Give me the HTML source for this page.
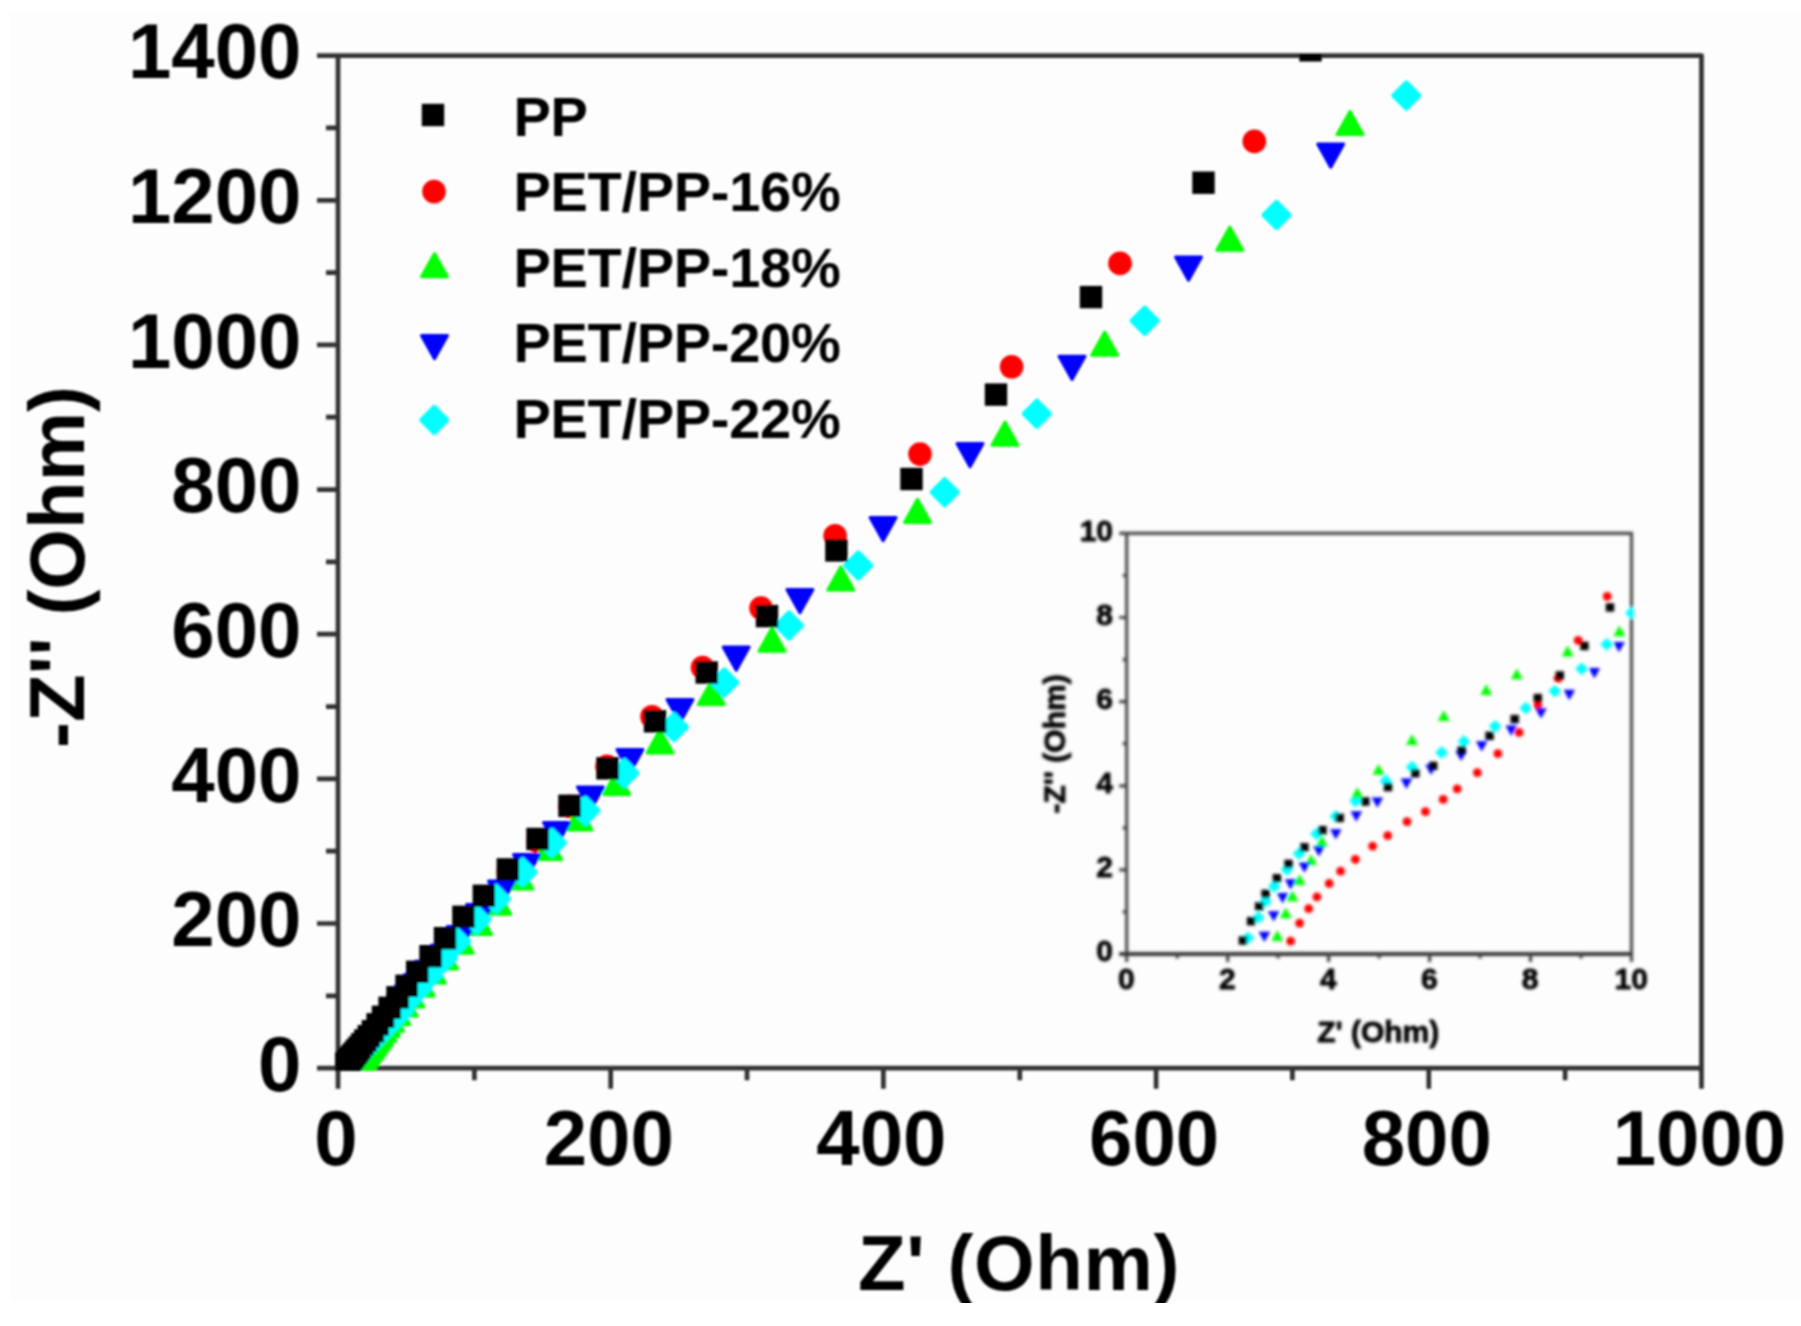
<!DOCTYPE html>
<html lang="en"><head><meta charset="utf-8"><title>Nyquist plot</title>
<style>html,body{margin:0;padding:0;background:#fff}svg{display:block}text{font-family:"Liberation Sans", sans-serif;font-weight:bold;fill:#000}</style></head><body>
<svg width="1801" height="1326" viewBox="0 0 1801 1326">
<defs>
<filter id="bl" x="0" y="0" width="1801" height="1326" filterUnits="userSpaceOnUse"><feGaussianBlur stdDeviation="1.2"/></filter>
<filter id="bi" x="1000" y="480" width="720" height="600" filterUnits="userSpaceOnUse"><feGaussianBlur stdDeviation="1.1"/></filter>
<clipPath id="cm"><rect x="335.6" y="54.6" width="1368.3" height="1016"/></clipPath>
<clipPath id="ci"><rect x="1120" y="531" width="513.6" height="426"/></clipPath>
<clipPath id="cp"><rect x="0" y="0" width="1801" height="1302.3"/></clipPath>
</defs>
<rect x="0" y="0" width="1801" height="1326" fill="#fff"/>
<rect x="10" y="12" width="1791" height="1290" fill="#fdfdfd"/>
<g filter="url(#bl)" clip-path="url(#cp)">
<g stroke="#303030" stroke-width="4.7" fill="none" stroke-linecap="butt" stroke-linejoin="round">
<path d="M317 55.6 H1701.5 V1088.7 M338 55.6 V1088.7 M317 1068.2 H1701.5"/>
<path d="M326 995.9H338M317 923.5H338M326 851.2H338M317 778.9H338M326 706.6H338M317 634.2H338M326 561.9H338M317 489.6H338M326 417.2H338M317 344.9H338M326 272.6H338M317 200.3H338M326 127.9H338M474.4 1068.2V1080.2M610.7 1068.2V1088.7M747 1068.2V1080.2M883.4 1068.2V1088.7M1019.8 1068.2V1080.2M1156.1 1068.2V1088.7M1292.4 1068.2V1080.2M1428.8 1068.2V1088.7M1565.1 1068.2V1080.2"/>
</g>
<g font-size="78" text-anchor="end">
<text x="301.5" y="1090.9">0</text>
<text x="301.5" y="946.2">200</text>
<text x="301.5" y="801.6">400</text>
<text x="301.5" y="656.9">600</text>
<text x="301.5" y="512.3">800</text>
<text x="301.5" y="367.6">1000</text>
<text x="301.5" y="223">1200</text>
<text x="301.5" y="78.3">1400</text>
</g>
<g font-size="78" text-anchor="middle">
<text x="336" y="1165">0</text>
<text x="608.7" y="1165">200</text>
<text x="881.4" y="1165">400</text>
<text x="1154.1" y="1165">600</text>
<text x="1426.8" y="1165">800</text>
<text x="1699.5" y="1165">1000</text>
</g>
<text x="1019" y="1290" font-size="78" letter-spacing="0.55" text-anchor="middle">Z' (Ohm)</text>
<text transform="translate(84 567) rotate(-90)" font-size="78" text-anchor="middle">-Z'' (Ohm)</text>
<g font-size="56" letter-spacing="-0.3">
<text x="513.5" y="135.6">PP</text>
<text x="513.5" y="210.9">PET/PP-16%</text>
<text x="513.5" y="286.6">PET/PP-18%</text>
<text x="513.5" y="362.1">PET/PP-20%</text>
<text x="513.5" y="437.8">PET/PP-22%</text>
</g>
<g fill="#000"><rect x="421.8" y="103.8" width="22.4" height="22.4"/></g>
<g fill="#ff0000"><circle cx="434" cy="191.6" r="11.8"/></g>
<g fill="#00ff00" stroke="#00ff00" stroke-width="3" stroke-linejoin="round"><polygon points="421.5,276.8 447.5,276.8 434.5,253.6"/></g>
<g fill="#0000ff" stroke="#0000ff" stroke-width="3" stroke-linejoin="round"><polygon points="421.5,335.5 447.5,335.5 434.5,358.7"/></g>
<g fill="#00ffff" stroke="#00ffff" stroke-width="4.4" stroke-linejoin="round"><polygon points="421.4,420 434.2,407.1 447.1,420 434.2,432.9"/></g>
<g filter="url(#bi)">
<g stroke="#444" stroke-width="3.1" fill="none">
<path d="M1119.2 533.4 H1631.5 V962 M1126.7 533.4 V962"/>
<path d="M1119.2 954 H1631.5" stroke="#363636" stroke-width="4"/>
<path d="M1122.7 911.9H1126.7M1177.2 954V958.5M1119.2 869.9H1126.7M1227.7 954V962M1122.7 827.8H1126.7M1278.1 954V958.5M1119.2 785.8H1126.7M1328.6 954V962M1122.7 743.7H1126.7M1379.1 954V958.5M1119.2 701.6H1126.7M1429.6 954V962M1122.7 659.6H1126.7M1480.1 954V958.5M1119.2 617.5H1126.7M1530.5 954V962M1122.7 575.5H1126.7M1581 954V958.5" stroke-width="3.2"/>
</g>
<g stroke="#000" stroke-width="0.8" stroke-linejoin="round">
<g font-size="30" text-anchor="end">
<text x="1113" y="961.2">0</text>
<text x="1113" y="877.1">2</text>
<text x="1113" y="793">4</text>
<text x="1113" y="708.8">6</text>
<text x="1113" y="624.7">8</text>
<text x="1113" y="540.6">10</text>
</g>
<g font-size="30" text-anchor="middle">
<text x="1126.4" y="989.4">0</text>
<text x="1227.4" y="989.4">2</text>
<text x="1328.3" y="989.4">4</text>
<text x="1429.3" y="989.4">6</text>
<text x="1530.2" y="989.4">8</text>
<text x="1631.2" y="989.4">10</text>
</g>
<text x="1378.2" y="1042.3" font-size="30" text-anchor="middle">Z' (Ohm)</text>
<text transform="translate(1064.8 744) rotate(-90)" font-size="30" text-anchor="middle">-Z'' (Ohm)</text>
</g>
<g clip-path="url(#ci)">
<g fill="#00ffff"><polygon points="1241.6,937.8 1248,931.4 1254.4,937.8 1248,944.2"/><polygon points="1252,917.6 1258.4,911.2 1264.8,917.6 1258.4,924"/><polygon points="1259.2,901.3 1265.6,894.9 1272,901.3 1265.6,907.7"/><polygon points="1267.9,886.3 1274.3,879.9 1280.7,886.3 1274.3,892.7"/><polygon points="1280.6,869.4 1287,863 1293.4,869.4 1287,875.8"/><polygon points="1292.6,853.7 1299,847.3 1305.4,853.7 1299,860.1"/><polygon points="1310.1,833.8 1316.5,827.4 1322.9,833.8 1316.5,840.2"/><polygon points="1329.4,816.3 1335.8,809.9 1342.2,816.3 1335.8,822.7"/><polygon points="1349.2,801.1 1355.6,794.7 1362,801.1 1355.6,807.5"/><polygon points="1379.4,781 1385.8,774.6 1392.2,781 1385.8,787.4"/><polygon points="1405.6,767.1 1412,760.7 1418.4,767.1 1412,773.5"/><polygon points="1435.2,752.5 1441.6,746.1 1448,752.5 1441.6,758.9"/><polygon points="1457.5,741.4 1463.9,735 1470.3,741.4 1463.9,747.8"/><polygon points="1488.7,726.3 1495.1,719.9 1501.5,726.3 1495.1,732.7"/><polygon points="1519.4,708.2 1525.8,701.8 1532.2,708.2 1525.8,714.6"/><polygon points="1548.4,691.1 1554.8,684.7 1561.2,691.1 1554.8,697.5"/><polygon points="1575.2,668.8 1581.6,662.4 1588,668.8 1581.6,675.2"/><polygon points="1600.3,644.3 1606.7,637.9 1613.1,644.3 1606.7,650.7"/><polygon points="1625.1,613 1631.5,606.6 1637.9,613 1631.5,619.4"/></g>
<g fill="#ff0000"><circle cx="1290.6" cy="941.2" r="4.4"/><circle cx="1299.6" cy="923.1" r="4.4"/><circle cx="1308.7" cy="908.6" r="4.4"/><circle cx="1316.9" cy="896.9" r="4.4"/><circle cx="1329.2" cy="883.5" r="4.4"/><circle cx="1340.6" cy="871.2" r="4.4"/><circle cx="1355.4" cy="859.4" r="4.4"/><circle cx="1372.6" cy="846.1" r="4.4"/><circle cx="1387.7" cy="835.6" r="4.4"/><circle cx="1407" cy="821.7" r="4.4"/><circle cx="1425.4" cy="811.7" r="4.4"/><circle cx="1443.2" cy="799.4" r="4.4"/><circle cx="1457.2" cy="788.8" r="4.4"/><circle cx="1477.3" cy="772.6" r="4.4"/><circle cx="1497.9" cy="753.7" r="4.4"/><circle cx="1519.1" cy="732.5" r="4.4"/><circle cx="1537.8" cy="705.5" r="4.4"/><circle cx="1558.1" cy="678.3" r="4.4"/><circle cx="1578.2" cy="640.4" r="4.4"/><circle cx="1607.2" cy="596.3" r="4.4"/></g>
<g fill="#00ff00"><polygon points="1271.3,941.1 1283.3,941.1 1277.3,930.3"/><polygon points="1279.7,918.2 1291.7,918.2 1285.7,907.4"/><polygon points="1286.4,901.3 1298.4,901.3 1292.4,890.5"/><polygon points="1293.6,885 1305.6,885 1299.6,874.2"/><polygon points="1305.1,865.1 1317.1,865.1 1311.1,854.3"/><polygon points="1315.9,846.4 1327.9,846.4 1321.9,835.6"/><polygon points="1351.3,798.1 1363.3,798.1 1357.3,787.3"/><polygon points="1372.5,774.7 1384.5,774.7 1378.5,763.9"/><polygon points="1406,745.1 1418,745.1 1412,734.3"/><polygon points="1437.8,721.1 1449.8,721.1 1443.8,710.3"/><polygon points="1480.2,695.1 1492.2,695.1 1486.2,684.3"/><polygon points="1510.8,679.2 1522.8,679.2 1516.8,668.4"/><polygon points="1561.6,656.4 1573.6,656.4 1567.6,645.6"/><polygon points="1613.3,636.3 1625.3,636.3 1619.3,625.5"/></g>
<g fill="#0000ff"><polygon points="1258.6,931.7 1270.2,931.7 1264.4,942.1"/><polygon points="1267.9,911.2 1279.5,911.2 1273.7,921.6"/><polygon points="1276.9,893.1 1288.5,893.1 1282.7,903.5"/><polygon points="1284.8,879.3 1296.4,879.3 1290.6,889.7"/><polygon points="1298.6,862.4 1310.2,862.4 1304.4,872.8"/><polygon points="1313.1,846.1 1324.7,846.1 1318.9,856.5"/><polygon points="1330,829.2 1341.6,829.2 1335.8,839.6"/><polygon points="1350.5,811.3 1362.1,811.3 1356.3,821.7"/><polygon points="1371.6,797.4 1383.2,797.4 1377.4,807.8"/><polygon points="1400.6,778.6 1412.2,778.6 1406.4,789"/><polygon points="1425.2,764.6 1436.8,764.6 1431,775"/><polygon points="1455.3,750.7 1466.9,750.7 1461.1,761.1"/><polygon points="1475.9,741.2 1487.5,741.2 1481.7,751.6"/><polygon points="1505.5,725.6 1517.1,725.6 1511.3,736"/><polygon points="1535.2,708.2 1546.8,708.2 1541,718.6"/><polygon points="1563.5,689.8 1575.1,689.8 1569.3,700.2"/><polygon points="1588.6,668.1 1600.2,668.1 1594.4,678.5"/><polygon points="1613.2,641.9 1624.8,641.9 1619,652.3"/></g>
<g fill="#000"><rect x="1238.7" y="936.3" width="8.4" height="8.4"/><rect x="1246.9" y="917" width="8.4" height="8.4"/><rect x="1255" y="902.2" width="8.4" height="8.4"/><rect x="1261.4" y="889.7" width="8.4" height="8.4"/><rect x="1272.7" y="874" width="8.4" height="8.4"/><rect x="1284.3" y="859.7" width="8.4" height="8.4"/><rect x="1300.2" y="843.1" width="8.4" height="8.4"/><rect x="1318.3" y="826" width="8.4" height="8.4"/><rect x="1335.5" y="813.7" width="8.4" height="8.4"/><rect x="1361.1" y="797.3" width="8.4" height="8.4"/><rect x="1383.8" y="782.9" width="8.4" height="8.4"/><rect x="1411.1" y="769" width="8.4" height="8.4"/><rect x="1429" y="761.7" width="8.4" height="8.4"/><rect x="1457.5" y="746.1" width="8.4" height="8.4"/><rect x="1485.4" y="731.6" width="8.4" height="8.4"/><rect x="1510.5" y="714.9" width="8.4" height="8.4"/><rect x="1533.6" y="693.9" width="8.4" height="8.4"/><rect x="1555.6" y="671.3" width="8.4" height="8.4"/><rect x="1580.2" y="641.7" width="8.4" height="8.4"/><rect x="1605.8" y="603.2" width="8.4" height="8.4"/></g>
</g>
</g>
<g clip-path="url(#cm)">
<g fill="#ff0000"><circle cx="1254.3" cy="141.4" r="11.8"/><circle cx="1120" cy="263.4" r="11.8"/><circle cx="1011.6" cy="366.8" r="11.8"/><circle cx="920" cy="454.1" r="11.8"/><circle cx="835.1" cy="535.8" r="11.8"/><circle cx="761" cy="608.1" r="11.8"/><circle cx="702.5" cy="667.5" r="11.8"/><circle cx="652" cy="716.7" r="11.8"/><circle cx="607" cy="766.4" r="11.8"/><circle cx="569.8" cy="806.4" r="11.8"/><circle cx="538" cy="841.6" r="11.8"/><circle cx="508.2" cy="872" r="11.8"/></g>
<g fill="#00ff00" stroke="#00ff00" stroke-width="3" stroke-linejoin="round"><polygon points="1337,134.6 1363,134.6 1350,111.4"/><polygon points="1216.8,250.3 1242.8,250.3 1229.8,227.1"/><polygon points="1091.7,355.2 1117.7,355.2 1104.7,332"/><polygon points="992,445.2 1018,445.2 1005,422"/><polygon points="904.5,522.4 930.5,522.4 917.5,499.2"/><polygon points="827.8,590 853.8,590 840.8,566.8"/><polygon points="759,651.2 785,651.2 772,628"/><polygon points="698.3,704.6 724.3,704.6 711.3,681.4"/><polygon points="647,752.9 673,752.9 660,729.7"/><polygon points="603.7,794.4 629.7,794.4 616.7,771.2"/><polygon points="566,830.1 592,830.1 579,806.9"/><polygon points="535.6,859.5 561.6,859.5 548.6,836.3"/><polygon points="506.9,888.9 532.9,888.9 519.9,865.7"/><polygon points="484.6,914.2 510.6,914.2 497.6,891"/><polygon points="465.5,934.4 491.5,934.4 478.5,911.2"/><polygon points="447.2,953.2 473.2,953.2 460.2,930"/><polygon points="431.5,969 457.5,969 444.5,945.8"/><polygon points="419.4,983.1 445.4,983.1 432.4,959.9"/><polygon points="408.1,996.1 434.1,996.1 421.1,972.9"/><polygon points="397.9,1006.9 423.9,1006.9 410.9,983.7"/><polygon points="391.1,1015.9 417.1,1015.9 404.1,992.7"/><polygon points="383.7,1024.4 409.7,1024.4 396.7,1001.2"/><polygon points="377.5,1031.2 403.5,1031.2 390.5,1008"/><polygon points="373.4,1036.5 399.4,1036.5 386.4,1013.3"/><polygon points="369.8,1041.2 395.8,1041.2 382.8,1018"/><polygon points="366.6,1045.4 392.6,1045.4 379.6,1022.2"/><polygon points="363.8,1049.1 389.8,1049.1 376.8,1025.9"/><polygon points="361.3,1052.3 387.3,1052.3 374.3,1029.1"/><polygon points="359.1,1055.2 385.1,1055.2 372.1,1032"/><polygon points="357.1,1057.8 383.1,1057.8 370.1,1034.6"/><polygon points="355.4,1060 381.4,1060 368.4,1036.8"/><polygon points="353.8,1062 379.8,1062 366.8,1038.8"/><polygon points="352.5,1063.8 378.5,1063.8 365.5,1040.6"/><polygon points="351.3,1065.4 377.3,1065.4 364.3,1042.2"/><polygon points="350.2,1066.7 376.2,1066.7 363.2,1043.5"/><polygon points="349.2,1068 375.2,1068 362.2,1044.8"/><polygon points="348.4,1069.1 374.4,1069.1 361.4,1045.9"/><polygon points="347.7,1070 373.7,1070 360.7,1046.8"/><polygon points="347,1070.9 373,1070.9 360,1047.7"/><polygon points="346.4,1071.6 372.4,1071.6 359.4,1048.4"/><polygon points="345.9,1072.3 371.9,1072.3 358.9,1049.1"/><polygon points="345.5,1072.9 371.5,1072.9 358.5,1049.7"/><polygon points="345.1,1073.4 371.1,1073.4 358.1,1050.2"/><polygon points="344.7,1073.9 370.7,1073.9 357.7,1050.7"/><polygon points="344.4,1074.3 370.4,1074.3 357.4,1051.1"/><polygon points="344.1,1074.6 370.1,1074.6 357.1,1051.4"/><polygon points="343.9,1074.9 369.9,1074.9 356.9,1051.7"/><polygon points="343.7,1075.2 369.7,1075.2 356.7,1052"/><polygon points="343.5,1075.5 369.5,1075.5 356.5,1052.3"/><polygon points="343.3,1075.7 369.3,1075.7 356.3,1052.5"/><polygon points="343.2,1075.9 369.2,1075.9 356.2,1052.7"/><polygon points="343,1076.1 369,1076.1 356,1052.9"/><polygon points="342.9,1076.2 368.9,1076.2 355.9,1053"/></g>
<g fill="#0000ff" stroke="#0000ff" stroke-width="3" stroke-linejoin="round"><polygon points="1317.7,144 1343.7,144 1330.7,167.2"/><polygon points="1175.5,257 1201.5,257 1188.5,280.2"/><polygon points="1059,356.3 1085,356.3 1072,379.5"/><polygon points="957,443.6 983,443.6 970,466.8"/><polygon points="870.1,517.6 896.1,517.6 883.1,540.8"/><polygon points="786.9,589.6 812.9,589.6 799.9,612.8"/><polygon points="723.2,647.1 749.2,647.1 736.2,670.3"/><polygon points="667,699.4 693,699.4 680,722.6"/><polygon points="617,749.4 643,749.4 630,772.6"/><polygon points="577.5,786.9 603.5,786.9 590.5,810.1"/><polygon points="543.5,822.6 569.5,822.6 556.5,845.8"/><polygon points="513.5,854.6 539.5,854.6 526.5,877.8"/><polygon points="488.5,881.1 514.5,881.1 501.5,904.3"/><polygon points="466.5,904.5 492.5,904.5 479.5,927.7"/><polygon points="447.2,926.5 473.2,926.5 460.2,949.7"/><polygon points="431.2,945.2 457.2,945.2 444.2,968.4"/><polygon points="415.2,961.2 441.2,961.2 428.2,984.4"/><polygon points="404.6,974.4 430.6,974.4 417.6,997.6"/><polygon points="395.4,985.8 421.4,985.8 408.4,1009"/><polygon points="387.5,995.7 413.5,995.7 400.5,1018.9"/><polygon points="380.6,1004.1 406.6,1004.1 393.6,1027.3"/><polygon points="374.8,1011.4 400.8,1011.4 387.8,1034.6"/><polygon points="369.7,1017.7 395.7,1017.7 382.7,1040.9"/><polygon points="365.3,1023.2 391.3,1023.2 378.3,1046.4"/><polygon points="361.5,1027.8 387.5,1027.8 374.5,1051"/><polygon points="358.3,1031.9 384.3,1031.9 371.3,1055.1"/><polygon points="355.5,1035.4 381.5,1035.4 368.5,1058.6"/><polygon points="353.1,1038.4 379.1,1038.4 366.1,1061.6"/><polygon points="351,1040.9 377,1040.9 364,1064.1"/><polygon points="349.2,1043.2 375.2,1043.2 362.2,1066.4"/><polygon points="347.7,1045.1 373.7,1045.1 360.7,1068.3"/><polygon points="346.3,1046.7 372.3,1046.7 359.3,1069.9"/><polygon points="345.2,1048.2 371.2,1048.2 358.2,1071.4"/><polygon points="344.2,1049.4 370.2,1049.4 357.2,1072.6"/><polygon points="343.3,1050.5 369.3,1050.5 356.3,1073.7"/><polygon points="342.6,1051.4 368.6,1051.4 355.6,1074.6"/><polygon points="342,1052.2 368,1052.2 355,1075.4"/><polygon points="341.4,1052.9 367.4,1052.9 354.4,1076.1"/><polygon points="340.9,1053.4 366.9,1053.4 353.9,1076.6"/><polygon points="340.5,1053.9 366.5,1053.9 353.5,1077.1"/><polygon points="340.2,1054.4 366.2,1054.4 353.2,1077.6"/><polygon points="339.9,1054.8 365.9,1054.8 352.9,1078"/><polygon points="339.6,1055.1 365.6,1055.1 352.6,1078.3"/><polygon points="339.4,1055.4 365.4,1055.4 352.4,1078.6"/><polygon points="339.2,1055.6 365.2,1055.6 352.2,1078.8"/><polygon points="339,1055.8 365,1055.8 352,1079"/><polygon points="338.9,1056 364.9,1056 351.9,1079.2"/></g>
<g fill="#00ffff" stroke="#00ffff" stroke-width="4.4" stroke-linejoin="round"><polygon points="1393.4,95.5 1406.3,82.6 1419.2,95.5 1406.3,108.4"/><polygon points="1263.6,215 1276.5,202.1 1289.4,215 1276.5,227.9"/><polygon points="1131.8,320.7 1144.7,307.8 1157.6,320.7 1144.7,333.6"/><polygon points="1023.9,413.7 1036.8,400.8 1049.7,413.7 1036.8,426.6"/><polygon points="931.8,492.2 944.7,479.3 957.6,492.2 944.7,505.1"/><polygon points="845.4,565.5 858.3,552.6 871.2,565.5 858.3,578.4"/><polygon points="776.1,625.5 789,612.6 801.9,625.5 789,638.4"/><polygon points="711.4,682.5 724.3,669.6 737.2,682.5 724.3,695.4"/><polygon points="661.1,727 674,714.1 686.9,727 674,739.9"/><polygon points="611.6,773 624.5,760.1 637.4,773 624.5,785.9"/><polygon points="572.5,810.7 585.4,797.8 598.3,810.7 585.4,823.6"/><polygon points="539.1,842.7 552,829.8 564.9,842.7 552,855.6"/><polygon points="509.7,872.1 522.6,859.2 535.5,872.1 522.6,885"/><polygon points="483.1,898.8 496,885.9 508.9,898.8 496,911.7"/><polygon points="463.7,919.5 476.6,906.6 489.5,919.5 476.6,932.4"/><polygon points="443.3,941.4 456.2,928.5 469.1,941.4 456.2,954.3"/><polygon points="430.1,958.3 443,945.4 455.9,958.3 443,971.2"/><polygon points="415.3,975.3 428.2,962.4 441.1,975.3 428.2,988.2"/><polygon points="404,988.8 416.9,975.9 429.8,988.8 416.9,1001.7"/><polygon points="393.8,1000.1 406.7,987.2 419.6,1000.1 406.7,1013"/><polygon points="385.9,1011.5 398.8,998.6 411.7,1011.5 398.8,1024.4"/><polygon points="379.5,1018.2 392.4,1005.3 405.3,1018.2 392.4,1031.1"/><polygon points="374,1024.1 386.9,1011.2 399.8,1024.1 386.9,1037"/><polygon points="369.1,1029.2 382,1016.3 394.9,1029.2 382,1042.1"/><polygon points="364.8,1033.7 377.7,1020.8 390.6,1033.7 377.7,1046.6"/><polygon points="361,1037.7 373.9,1024.8 386.8,1037.7 373.9,1050.6"/><polygon points="357.7,1041.2 370.6,1028.3 383.5,1041.2 370.6,1054.1"/><polygon points="354.8,1044.2 367.7,1031.3 380.6,1044.2 367.7,1057.1"/><polygon points="352.3,1046.9 365.2,1034 378.1,1046.9 365.2,1059.8"/><polygon points="350,1049.2 362.9,1036.3 375.8,1049.2 362.9,1062.1"/><polygon points="348.1,1051.3 361,1038.4 373.9,1051.3 361,1064.2"/><polygon points="346.4,1053.1 359.3,1040.2 372.2,1053.1 359.3,1066"/><polygon points="344.9,1054.7 357.8,1041.8 370.7,1054.7 357.8,1067.6"/><polygon points="343.5,1056.1 356.4,1043.2 369.3,1056.1 356.4,1069"/><polygon points="342.4,1057.3 355.3,1044.4 368.2,1057.3 355.3,1070.2"/><polygon points="341.4,1058.4 354.3,1045.5 367.2,1058.4 354.3,1071.3"/><polygon points="340.5,1059.3 353.4,1046.4 366.3,1059.3 353.4,1072.2"/><polygon points="339.7,1060.1 352.6,1047.2 365.5,1060.1 352.6,1073"/><polygon points="339,1060.8 351.9,1047.9 364.8,1060.8 351.9,1073.7"/><polygon points="338.4,1061.5 351.3,1048.6 364.2,1061.5 351.3,1074.4"/><polygon points="337.9,1062 350.8,1049.1 363.7,1062 350.8,1074.9"/><polygon points="337.4,1062.5 350.3,1049.6 363.2,1062.5 350.3,1075.4"/><polygon points="337,1062.9 349.9,1050 362.8,1062.9 349.9,1075.8"/><polygon points="336.6,1063.3 349.5,1050.4 362.4,1063.3 349.5,1076.2"/><polygon points="336.3,1063.7 349.2,1050.8 362.1,1063.7 349.2,1076.6"/><polygon points="336.1,1063.9 349,1051 361.9,1063.9 349,1076.8"/><polygon points="335.8,1064.2 348.7,1051.3 361.6,1064.2 348.7,1077.1"/><polygon points="335.6,1064.4 348.5,1051.5 361.4,1064.4 348.5,1077.3"/><polygon points="335.4,1064.6 348.3,1051.7 361.2,1064.6 348.3,1077.5"/><polygon points="335.3,1064.8 348.2,1051.9 361.1,1064.8 348.2,1077.7"/><polygon points="335.1,1064.9 348,1052 360.9,1064.9 348,1077.8"/></g>
<g fill="#000"><rect x="1299.3" y="39.1" width="22.4" height="22.4"/><rect x="1192.3" y="171.5" width="22.4" height="22.4"/><rect x="1079.8" y="285.9" width="22.4" height="22.4"/><rect x="984.8" y="383.4" width="22.4" height="22.4"/><rect x="900.3" y="467.8" width="22.4" height="22.4"/><rect x="825.2" y="539.2" width="22.4" height="22.4"/><rect x="755.8" y="604.9" width="22.4" height="22.4"/><rect x="695.5" y="661.3" width="22.4" height="22.4"/><rect x="643.8" y="710.1" width="22.4" height="22.4"/><rect x="596.3" y="757.1" width="22.4" height="22.4"/><rect x="558.3" y="794.6" width="22.4" height="22.4"/><rect x="526.3" y="827.8" width="22.4" height="22.4"/><rect x="496.6" y="858.2" width="22.4" height="22.4"/><rect x="472.6" y="884.6" width="22.4" height="22.4"/><rect x="452.2" y="905.6" width="22.4" height="22.4"/><rect x="433.8" y="927" width="22.4" height="22.4"/><rect x="419.3" y="945" width="22.4" height="22.4"/><rect x="406" y="960.6" width="22.4" height="22.4"/><rect x="395.3" y="974.6" width="22.4" height="22.4"/><rect x="386.3" y="986.1" width="22.4" height="22.4"/><rect x="378.4" y="996.6" width="22.4" height="22.4"/><rect x="371.8" y="1005.6" width="22.4" height="22.4"/><rect x="366.4" y="1013.1" width="22.4" height="22.4"/><rect x="361.7" y="1020" width="22.4" height="22.4"/><rect x="357.6" y="1025" width="22.4" height="22.4"/><rect x="354.1" y="1029.3" width="22.4" height="22.4"/><rect x="351.1" y="1033" width="22.4" height="22.4"/><rect x="348.5" y="1036.3" width="22.4" height="22.4"/><rect x="346.3" y="1039" width="22.4" height="22.4"/><rect x="344.4" y="1041.4" width="22.4" height="22.4"/><rect x="342.7" y="1043.5" width="22.4" height="22.4"/><rect x="341.3" y="1045.2" width="22.4" height="22.4"/><rect x="340" y="1046.8" width="22.4" height="22.4"/><rect x="339" y="1048.1" width="22.4" height="22.4"/><rect x="338" y="1049.2" width="22.4" height="22.4"/><rect x="337.3" y="1050.2" width="22.4" height="22.4"/><rect x="336.6" y="1051" width="22.4" height="22.4"/><rect x="336" y="1051.8" width="22.4" height="22.4"/><rect x="335.5" y="1052.4" width="22.4" height="22.4"/><rect x="335" y="1052.9" width="22.4" height="22.4"/><rect x="334.7" y="1053.4" width="22.4" height="22.4"/><rect x="334.3" y="1053.8" width="22.4" height="22.4"/><rect x="334.1" y="1054.1" width="22.4" height="22.4"/><rect x="333.8" y="1054.4" width="22.4" height="22.4"/><rect x="333.6" y="1054.7" width="22.4" height="22.4"/><rect x="333.4" y="1054.9" width="22.4" height="22.4"/><rect x="333.3" y="1055.1" width="22.4" height="22.4"/><rect x="333.1" y="1055.3" width="22.4" height="22.4"/><rect x="333" y="1055.4" width="22.4" height="22.4"/><rect x="332.9" y="1055.5" width="22.4" height="22.4"/><rect x="332.8" y="1055.6" width="22.4" height="22.4"/><rect x="332.8" y="1055.7" width="22.4" height="22.4"/><rect x="332.7" y="1055.8" width="22.4" height="22.4"/><rect x="332.6" y="1055.9" width="22.4" height="22.4"/></g>
</g>
</g>
</svg></body></html>
